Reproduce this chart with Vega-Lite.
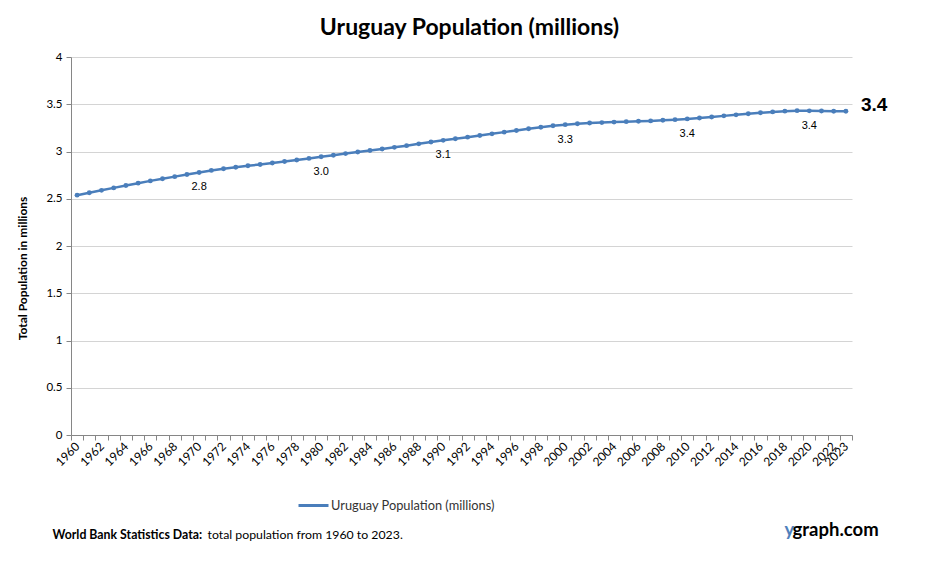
{
  "$schema": "https://vega.github.io/schema/vega-lite/v6.json",
  "width": 781,
  "height": 378,
  "autosize": {"type": "none"},
  "padding": {"left": 71, "top": 57, "right": 89, "bottom": 126},
  "background": "white",
  "config": {"view": {"stroke": null}, "font": "Lato"},
  "title": {"text": "Uruguay Population (millions)", "font": "Lato", "fontSize": 23, "fontWeight": "bold", "color": "#000000", "anchor": "middle", "dx": 8, "offset": 11},
  "datasets": {
    "pop": [
      {"year": 1960, "value": 2.538}, {"year": 1961, "value": 2.563}, {"year": 1962, "value": 2.589}, {"year": 1963, "value": 2.615},
      {"year": 1964, "value": 2.640}, {"year": 1965, "value": 2.665}, {"year": 1966, "value": 2.689}, {"year": 1967, "value": 2.712},
      {"year": 1968, "value": 2.734}, {"year": 1969, "value": 2.756}, {"year": 1970, "value": 2.778}, {"year": 1971, "value": 2.800},
      {"year": 1972, "value": 2.818}, {"year": 1973, "value": 2.834}, {"year": 1974, "value": 2.849}, {"year": 1975, "value": 2.863},
      {"year": 1976, "value": 2.878}, {"year": 1977, "value": 2.894}, {"year": 1978, "value": 2.910}, {"year": 1979, "value": 2.927},
      {"year": 1980, "value": 2.944}, {"year": 1981, "value": 2.961}, {"year": 1982, "value": 2.978}, {"year": 1983, "value": 2.995},
      {"year": 1984, "value": 3.011}, {"year": 1985, "value": 3.027}, {"year": 1986, "value": 3.044}, {"year": 1987, "value": 3.062},
      {"year": 1988, "value": 3.081}, {"year": 1989, "value": 3.101}, {"year": 1990, "value": 3.118}, {"year": 1991, "value": 3.135},
      {"year": 1992, "value": 3.152}, {"year": 1993, "value": 3.170}, {"year": 1994, "value": 3.187}, {"year": 1995, "value": 3.205},
      {"year": 1996, "value": 3.223}, {"year": 1997, "value": 3.240}, {"year": 1998, "value": 3.257}, {"year": 1999, "value": 3.272},
      {"year": 2000, "value": 3.284}, {"year": 2001, "value": 3.293}, {"year": 2002, "value": 3.301}, {"year": 2003, "value": 3.306},
      {"year": 2004, "value": 3.311}, {"year": 2005, "value": 3.316}, {"year": 2006, "value": 3.320}, {"year": 2007, "value": 3.324},
      {"year": 2008, "value": 3.330}, {"year": 2009, "value": 3.337}, {"year": 2010, "value": 3.345}, {"year": 2011, "value": 3.355},
      {"year": 2012, "value": 3.365}, {"year": 2013, "value": 3.377}, {"year": 2014, "value": 3.388}, {"year": 2015, "value": 3.399},
      {"year": 2016, "value": 3.410}, {"year": 2017, "value": 3.419}, {"year": 2018, "value": 3.427}, {"year": 2019, "value": 3.432},
      {"year": 2020, "value": 3.430}, {"year": 2021, "value": 3.428}, {"year": 2022, "value": 3.426}, {"year": 2023, "value": 3.426}
    ],
    "labels": [
      {"year": 1970, "value": 2.778, "label": "2.8"},
      {"year": 1980, "value": 2.944, "label": "3.0"},
      {"year": 1990, "value": 3.118, "label": "3.1"},
      {"year": 2000, "value": 3.284, "label": "3.3"},
      {"year": 2010, "value": 3.345, "label": "3.4"},
      {"year": 2020, "value": 3.430, "label": "3.4"}
    ],
    "last": [
      {"year": 2023, "value": 3.426, "label": "3.4"}
    ]
  },
  "layer": [
    {
      "data": {"name": "pop"},
      "mark": {"type": "line", "strokeWidth": 2.5, "point": {"filled": true, "size": 24}},
      "encoding": {
        "x": {
          "field": "year", "type": "ordinal",
          "scale": {"type": "band", "paddingInner": 0, "paddingOuter": 0},
          "axis": {
            "orient": "bottom",
            "title": "World Bank Statistics Data:",
            "titleFont": "Lato", "titleFontSize": 12.3, "titleFontWeight": "bold", "titleColor": "#000000",
            "titleX": -19, "titleY": 103, "titleAlign": "left", "titleBaseline": "alphabetic", "titleAngle": 0,
            "labelAngle": -45, "labelAlign": "right", "labelBaseline": "middle",
            "labelFont": "Lato", "labelFontSize": 12, "labelColor": "#000000", "labelPadding": 4,
            "labelExpr": "(datum.value % 2 == 0 || datum.value == 2023) ? datum.label : ''",
            "labelOverlap": false,
            "tickBand": "extent", "tickSize": 5, "tickColor": "#868686",
            "domainColor": "#868686", "grid": false
          }
        },
        "y": {
          "field": "value", "type": "quantitative",
          "scale": {"domain": [0, 4], "nice": false},
          "axis": {
            "orient": "left",
            "values": [0, 0.5, 1, 1.5, 2, 2.5, 3, 3.5, 4],
            "format": "~g",
            "title": "Total Population  in millions",
            "titleFont": "Lato", "titleFontSize": 12, "titleFontWeight": "bold", "titleColor": "#000000",
            "titleX": -49, "titleY": 211, "titleAngle": -90, "titleAlign": "center", "titleBaseline": "middle",
            "labelFont": "Lato", "labelFontSize": 11.5, "labelColor": "#000000", "labelPadding": 4,
            "tickSize": 5, "tickColor": "#868686", "domainColor": "#868686",
            "grid": true, "gridColor": "#d4d4d4"
          }
        },
        "color": {
          "datum": "Uruguay Population (millions)", "type": "nominal",
          "scale": {"range": ["#4A7EBB"]},
          "legend": {
            "orient": "none", "legendX": 226, "legendY": 432, "title": null, "padding": 0,
            "symbolType": "stroke", "symbolSize": 900, "symbolStrokeWidth": 3,
            "labelFont": "Lato", "labelFontSize": 12.8, "labelColor": "#333333", "labelOffset": 1, "labelLimit": 400
          }
        }
      }
    },
    {
      "data": {"name": "labels"},
      "mark": {"type": "text", "font": "Liberation Sans", "fontSize": 11, "color": "#000000", "dy": 15, "baseline": "middle", "align": "center"},
      "encoding": {
        "x": {
          "field": "year", "type": "ordinal", "scale": {"type": "band"},
          "axis": {
            "orient": "top", "labels": false, "ticks": false, "domain": false, "grid": false,
            "title": "total population from 1960 to 2023.",
            "titleFont": "Lato", "titleFontSize": 12.3, "titleFontWeight": "normal", "titleColor": "#000000",
            "titleX": 136, "titleY": 481, "titleAlign": "left", "titleBaseline": "alphabetic", "titleAngle": 0
          }
        },
        "y": {
          "field": "value", "type": "quantitative",
          "axis": {
            "orient": "right", "labels": false, "ticks": false, "domain": false, "grid": false,
            "title": "graph.com",
            "titleFont": "Lato", "titleFontSize": 18.5, "titleFontWeight": "bold", "titleColor": "#000000",
            "titleX": -60, "titleY": 478, "titleAlign": "left", "titleBaseline": "alphabetic", "titleAngle": 0
          }
        },
        "text": {"field": "label"}
      }
    },
    {
      "data": {"name": "last"},
      "mark": {"type": "text", "font": "Liberation Sans", "fontSize": 19, "fontWeight": "bold", "color": "#000000", "dx": 15, "dy": -6, "baseline": "middle", "align": "left"},
      "encoding": {
        "x": {"field": "year", "type": "ordinal", "scale": {"type": "band"}, "axis": null},
        "y": {
          "field": "value", "type": "quantitative",
          "axis": {
            "orient": "right", "labels": false, "ticks": false, "domain": false, "grid": false,
            "title": "y",
            "titleFont": "Lato", "titleFontSize": 18.5, "titleFontWeight": "bold", "titleColor": "#4F81BD",
            "titleX": -68, "titleY": 478, "titleAlign": "left", "titleBaseline": "alphabetic", "titleAngle": 0
          }
        },
        "text": {"field": "label"}
      }
    }
  ],
  "resolve": {"axis": {"x": "independent", "y": "independent"}}
}
